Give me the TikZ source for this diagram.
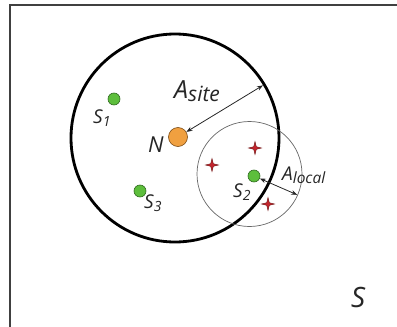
\documentclass[tikz,border=0pt]{standalone}
\usepackage{fontspec}
\setmainfont{Open Sans}
\usetikzlibrary{arrows.meta}
\definecolor{dotgreen}{HTML}{5DBE3C}
\definecolor{dotgreenline}{HTML}{2F6A1F}
\definecolor{dotorange}{HTML}{F0A040}
\definecolor{dotorangeline}{HTML}{7A4A14}
\definecolor{starred}{HTML}{C4262E}
\definecolor{starline}{HTML}{6A1010}
\begin{document}
\begin{tikzpicture}[x=1pt,y=-1pt,
  frameline/.style={draw=black!75, line width=1.8pt},
  sitecircle/.style={circle, draw=black, line width=2.8pt, inner sep=0pt, outer sep=0pt},
  localcircle/.style={circle, draw=black!60, line width=0.7pt, inner sep=0pt, outer sep=0pt},
  gdot/.style={circle, fill=dotgreen, draw=dotgreenline, line width=0.6pt, minimum size=12pt, inner sep=0pt},
  odot/.style={circle, fill=dotorange, draw=dotorangeline, line width=0.6pt, minimum size=19pt, inner sep=0pt},
  dimarrow/.style={draw=black!85, line width=0.8pt, {Stealth[length=6pt,width=4.5pt]}-{Stealth[length=6pt,width=4.5pt]}},
  txt/.style={inner sep=0pt, text=black!85},
  starshape/.style={fill=starred, draw=starline, line width=0.4pt}
]
\useasboundingbox (0,0) rectangle (397,327);
% frame
\draw[frameline] (10,330) -- (10,5) -- (400,5);
% circles
\node[sitecircle, minimum size=208pt] (site) at (175,138) {};
\node[localcircle, minimum size=105pt] (local) at (249.5,174) {};
% dots
\node[odot] (N) at (178,137) {};
\node[gdot] (s1) at (114,99) {};
\node[gdot] (s3) at (140,191) {};
\node[gdot] (s2) at (254,176) {};
% stars
\foreach \n/\x/\y in {st1/255/148, st2/212/165, st3/268/204}{
  \coordinate (\n) at (\x,\y);
  \path[starshape] (\n) ++(0,-6.5) -- ++(1.3,5.2) -- ++(5.2,1.3) -- ++(-5.2,1.3) -- ++(-1.3,5.2) -- ++(-1.3,-5.2) -- ++(-5.2,-1.3) -- ++(5.2,-1.3) -- cycle;
}
% arrows
\coordinate (siteend) at (site.31.6);
\coordinate (localend) at (local.-23);
\draw[dimarrow] (N) -- ([shift={(-1.2,0.9)}]siteend);
\draw[dimarrow] (s2) -- ([shift={(-0.6,0.3)}]localend);
% labels
\node[txt, anchor=base west] (Nlbl) at (148,152) {\fontsize{22}{22}\selectfont\itshape N};
\node[txt, anchor=base west] (s1lbl) at (93,123) {{\fontsize{19}{19}\selectfont\itshape S}\raisebox{-3pt}{\fontsize{14}{14}\selectfont\itshape 1}};
\node[txt, anchor=base west] (s3lbl) at (144,208) {{\fontsize{19}{19}\selectfont\itshape S}\raisebox{-3pt}{\fontsize{14}{14}\selectfont\itshape 3}};
\node[txt, anchor=base west] (s2lbl) at (233,197) {{\fontsize{19}{19}\selectfont\itshape S}\raisebox{-3pt}{\fontsize{14}{14}\selectfont\itshape 2}};
\node[txt, anchor=base west] (asite) at (174,98) {{\fontsize{25}{25}\selectfont\itshape A}\raisebox{-3.5pt}{\fontsize{21}{21}\selectfont\itshape site}};
\node[txt, anchor=base west] (alocal) at (282,180) {{\fontsize{19}{19}\selectfont\itshape A}\raisebox{-3pt}{\fontsize{15.5}{15.5}\selectfont\itshape local}};
\node[txt, anchor=base west] (Slbl) at (351,307) {\fontsize{28}{28}\selectfont\itshape S};
\end{tikzpicture}
\end{document}
